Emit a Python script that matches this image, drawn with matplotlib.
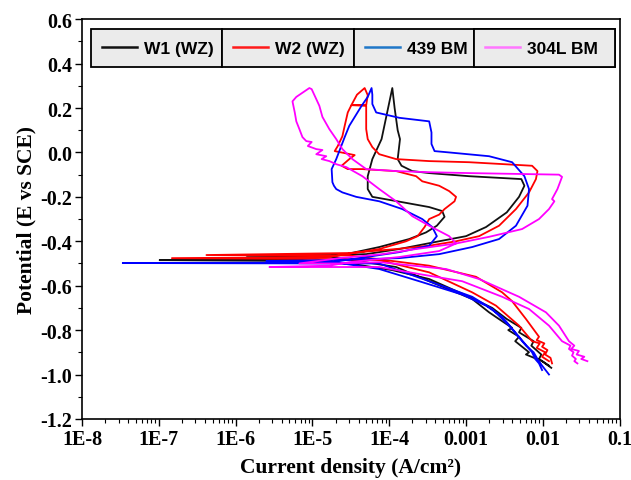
import matplotlib.pyplot as plt
import numpy as np
from matplotlib.lines import Line2D
from matplotlib.ticker import LogLocator, NullFormatter, MultipleLocator

plt.rcParams['font.family'] = 'Liberation Serif'
plt.rcParams['font.weight'] = 'bold'
plt.rcParams['axes.unicode_minus'] = False

# cyclic polarisation curves
# log10 of current density (A/cm2) and potential (V vs SCE)
w1_logi = [-1.92, -2.05, -2.02, -2.15, -2.12, -2.31, -2.28, -2.47, -2.66, -2.96, -3.48, -3.96, -4.52, -5.17, -6.99, -5.17,
           -4.56, -4.13, -3.74, -3.52, -3.38, -3.28, -3.31, -3.48, -3.91, -4.22, -4.28, -4.28, -4.22, -4.10, -3.96,
           -3.93, -3.89, -3.86, -3.89, -3.84, -3.70, -3.48, -2.96, -2.28, -2.24, -2.31, -2.47, -2.74, -3.00, -3.35,
           -3.87, -4.30, -4.78, -5.86, -4.78,
           -3.91, -3.48, -2.92, -2.70, -2.53, -2.40, -2.45, -2.31, -2.36, -2.18, -2.22, -2.01, -1.89]
w1_E = [-0.96, -0.93, -0.91, -0.87, -0.85, -0.81, -0.79, -0.75, -0.70, -0.65, -0.57, -0.53, -0.50, -0.489, -0.485, -0.482,
        -0.458, -0.426, -0.39, -0.36, -0.33, -0.29, -0.264, -0.246, -0.219, -0.20, -0.165, -0.107, -0.03, 0.06, 0.29,
        0.20, 0.10, 0.06, -0.03, -0.06, -0.084, -0.093, -0.107, -0.12, -0.15, -0.20, -0.27, -0.336, -0.377, -0.40,
        -0.435, -0.458, -0.462, -0.464, -0.469,
        -0.516, -0.58, -0.66, -0.72, -0.76, -0.79, -0.80, -0.83, -0.85, -0.90, -0.91, -0.94, -0.97]

w2_logi = [-1.92, -2.01, -1.97, -2.08, -2.04, -2.14, -2.31, -2.61, -2.92, -3.48, -4.13, -4.78, -6.83, -4.78,
           -4.56, -4.13, -3.78, -3.63, -3.54, -3.48, -3.35, -3.28, -3.15, -3.13, -3.22, -3.35, -3.57, -3.65, -3.91,
           -4.35, -4.54, -4.62, -4.52, -4.45, -4.71, -4.67, -4.61, -4.58, -4.54, -4.49, -4.42, -4.32, -4.28, -4.30,
           -4.49, -4.30,
           -4.30, -4.28, -4.22, -4.13, -3.91, -3.48, -2.96, -2.14, -2.07, -2.09, -2.18, -2.35, -2.57, -2.83, -3.13,
           -3.48, -3.91, -4.52, -6.38, -4.52,
           -3.48, -2.87, -2.53, -2.40, -2.22, -2.05, -2.08, -1.98, -2.01, -1.94, -1.97, -1.90, -1.88]
w2_E = [-0.94, -0.92, -0.90, -0.88, -0.86, -0.85, -0.78, -0.69, -0.63, -0.54, -0.485, -0.48, -0.476, -0.471,
        -0.458, -0.435, -0.40, -0.377, -0.336, -0.30, -0.28, -0.255, -0.22, -0.20, -0.174, -0.15, -0.13, -0.107, -0.084,
        -0.075, -0.075, -0.06, -0.03, -0.012, 0.006, 0.029, 0.073, 0.12, 0.18, 0.215, 0.26, 0.29, 0.258, 0.213,
        0.213, 0.21,
        0.105, 0.06, 0.024, -0.008, -0.03, -0.039, -0.044, -0.06, -0.084, -0.12, -0.18, -0.255, -0.33, -0.377, -0.40,
        -0.42, -0.435, -0.453, -0.462, -0.464,
        -0.51, -0.56, -0.63, -0.67, -0.75, -0.83, -0.845, -0.86, -0.875, -0.89, -0.91, -0.925, -0.95]

bm439_logi = [-1.92, -2.01, -2.07, -2.12, -2.22, -2.44, -2.66, -2.92, -3.48, -4.13, -4.78, -7.47, -4.78,
              -4.30, -3.87, -3.48, -3.38, -3.44, -3.57, -3.83, -4.13, -4.43, -4.61, -4.69, -4.72, -4.74, -4.75,
              -4.69, -4.65, -4.58, -4.52, -4.36, -4.28, -4.23,
              -4.22, -4.22, -4.17, -3.87, -3.48, -3.45, -3.45, -3.41, -3.22, -2.70, -2.40, -2.24, -2.18, -2.20,
              -2.35, -2.57, -2.92, -3.35, -3.87, -4.78, -5.60, -4.78,
              -4.13, -3.61, -3.05, -2.74, -2.53, -2.31, -2.14, -2.10, -2.05, -2.01]
bm439_E = [-1.00, -0.96, -0.93, -0.90, -0.87, -0.78, -0.705, -0.65, -0.58, -0.50, -0.50, -0.498, -0.496,
           -0.471, -0.449, -0.42, -0.377, -0.336, -0.30, -0.255, -0.22, -0.20, -0.18, -0.165, -0.15, -0.134, -0.075,
           -0.03, 0.006, 0.069, 0.12, 0.21, 0.25, 0.29,
           0.26, 0.218, 0.18, 0.156, 0.14, 0.09, 0.038, 0.006, 0.0, -0.017, -0.044, -0.107, -0.165, -0.24,
           -0.33, -0.39, -0.426, -0.458, -0.476, -0.485, -0.489, -0.491,
           -0.525, -0.58, -0.64, -0.69, -0.74, -0.83, -0.90, -0.93, -0.95, -0.98]

bm304_logi = [-1.55, -1.59, -1.57, -1.62, -1.60, -1.66, -1.64, -1.75, -1.92, -2.18, -2.53, -3.05, -3.57, -4.13,
              -4.78, -5.56, -4.78,
              -4.52, -3.87, -3.35, -3.13, -3.22, -3.48, -3.70, -3.91, -4.13, -4.35, -4.56, -4.69, -4.78, -4.88,
              -4.82, -4.95, -4.87, -4.95, -5.06, -5.01, -5.08, -5.13, -5.17, -5.21, -5.23, -5.26, -5.21, -5.04,
              -5.01, -4.95, -4.91, -4.87, -4.78, -4.69, -4.61, -4.48, -4.30, -3.91, -3.48, -2.96, -1.79, -1.75,
              -1.81, -1.88, -1.85, -1.92, -2.05, -2.27, -2.70, -3.13, -3.65, -4.09, -4.65, -5.17, -4.65,
              -4.13, -3.26, -2.83, -2.31, -1.96, -1.79, -1.66, -1.59, -1.63, -1.53, -1.56, -1.46, -1.50, -1.42]
bm304_E = [-0.95, -0.94, -0.93, -0.915, -0.90, -0.885, -0.87, -0.85, -0.78, -0.705, -0.65, -0.58, -0.55, -0.516,
           -0.516, -0.516, -0.51,
           -0.494, -0.471, -0.444, -0.41, -0.377, -0.33, -0.287, -0.22, -0.165, -0.107, -0.066, -0.053, -0.039, -0.03,
           -0.017, -0.008, 0.011, 0.015, 0.029, 0.047, 0.051, 0.069, 0.105, 0.14, 0.18, 0.23, 0.25, 0.29,
           0.285, 0.24, 0.21, 0.16, 0.105, 0.06, 0.015, -0.03, -0.075, -0.084, -0.089, -0.093, -0.10, -0.11,
           -0.165, -0.21, -0.22, -0.255, -0.30, -0.345, -0.38, -0.41, -0.435, -0.458, -0.476, -0.50, -0.50,
           -0.494, -0.525, -0.57, -0.65, -0.72, -0.78, -0.85, -0.87, -0.885, -0.894, -0.91, -0.92, -0.93, -0.94]

labels = ['W1 (WZ)', 'W2 (WZ)', '439 BM', '304L BM']
line_colors = ['#111111', '#ff0000', '#0000ff', '#ff00ff']
legend_colors = ['#111111', '#ff1a1a', '#1f77c8', '#ff77ff']

x_ticks = [1e-8, 1e-7, 1e-6, 1e-5, 1e-4, 1e-3, 1e-2, 1e-1]
x_ticklabels = ['1E-8', '1E-7', '1E-6', '1E-5', '1E-4', '0.001', '0.01', '0.1']
y_ticks = [-1.2, -1.0, -0.8, -0.6, -0.4, -0.2, 0.0, 0.2, 0.4, 0.6]

fig = plt.figure(figsize=(6.31, 4.81), dpi=100)
ax = fig.add_axes([0.13, 0.127, 0.852, 0.831])

curves = [(w1_logi, w1_E), (w2_logi, w2_E), (bm439_logi, bm439_E), (bm304_logi, bm304_E)]
for (logi, pot), c in zip(curves, line_colors):
    ax.plot(10.0 ** np.array(logi), pot, color=c, lw=1.3)

ax.set_xscale('log')
ax.set_xlim(1e-8, 1e-1)
ax.set_ylim(-1.2, 0.6)
ax.set_xticks(x_ticks)
ax.set_xticklabels(x_ticklabels)
ax.xaxis.set_minor_locator(LogLocator(base=10, subs=np.arange(2, 10)))
ax.xaxis.set_minor_formatter(NullFormatter())
ax.set_yticks(y_ticks)
ax.set_yticklabels(['%.1f' % v for v in y_ticks])
ax.yaxis.set_minor_locator(MultipleLocator(0.1))
ax.tick_params(axis='x', which='both', direction='out', top=False, labelsize=14.5, pad=2)
ax.tick_params(axis='y', which='both', direction='out', right=False, labelsize=14.5, pad=2)
ax.tick_params(which='major', length=5, width=1)
ax.tick_params(which='minor', length=3, width=0.8)
for s in ax.spines.values():
    s.set_linewidth(1.2)

ax.set_xlabel('Current density (A/cm²)', fontsize=15.5, fontweight='bold', labelpad=6)
ax.set_ylabel('Potential (E vs SCE)', fontsize=15.5, fontweight='bold', labelpad=3)

# legend drawn as four boxed cells side by side
cell_edges = [0.0167, 0.260, 0.5056, 0.7286, 0.9907]
for i in range(4):
    x0, x1 = cell_edges[i], cell_edges[i + 1]
    leg = ax.legend(handles=[Line2D([], [], color=legend_colors[i], lw=1.8)], labels=[labels[i]],
                    loc='upper left', bbox_to_anchor=(x0, 0.975, x1 - x0, 0), mode='expand',
                    borderaxespad=0, prop=dict(family='Liberation Sans', weight='bold', size=12.5),
                    fancybox=False, edgecolor='black', facecolor='#ebebeb', framealpha=1,
                    handlelength=2.0, handletextpad=0.4, borderpad=0.65)
    leg.get_frame().set_linewidth(1.3)
    ax.add_artist(leg)

fig.savefig('out.png', dpi=100)
